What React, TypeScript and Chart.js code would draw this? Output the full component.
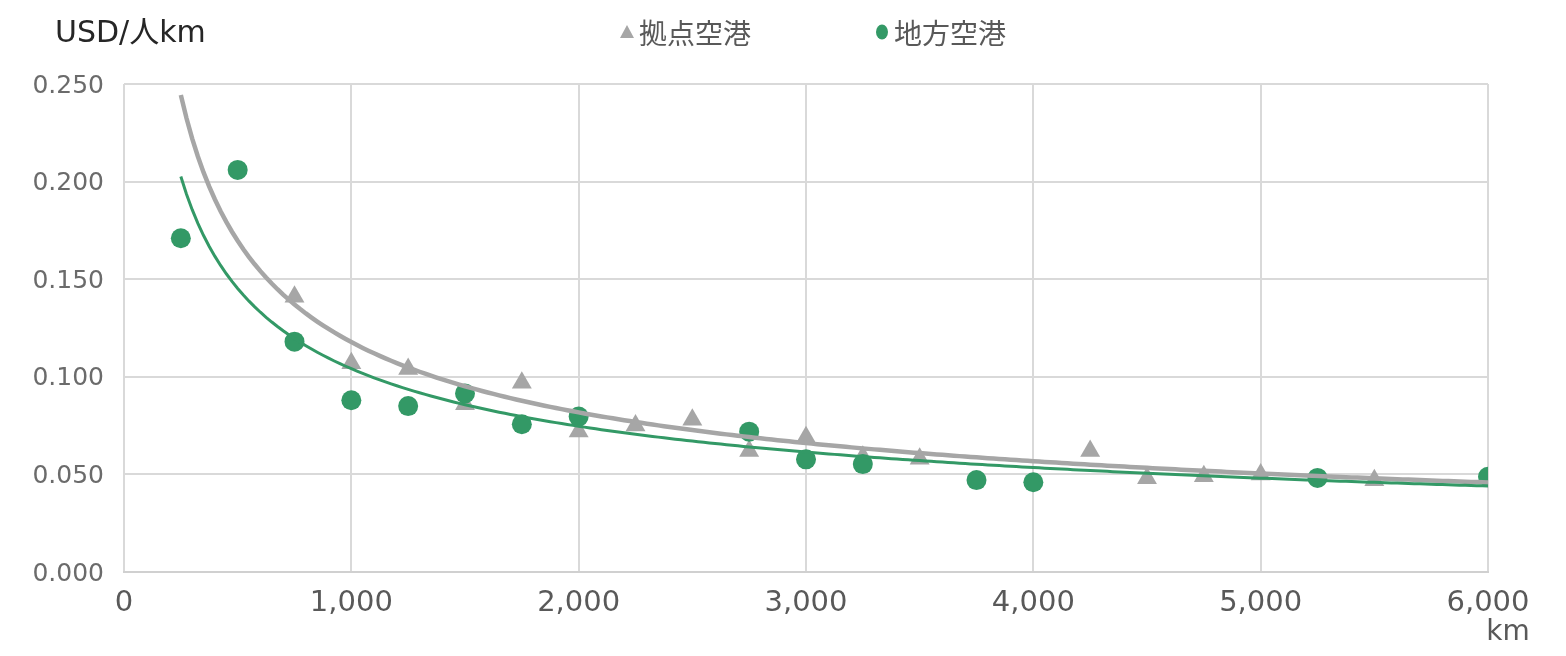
import React, { useEffect, useRef } from "react";
import { Chart, registerables } from "chart.js";

Chart.register(...registerables);

// ---- Data ----
const hubDistances = [750, 1000, 1250, 1500, 1750, 2000, 2250, 2500, 2750, 3000, 3250, 3500, 4250, 4500, 4750, 5000, 5500];
const hubCosts = [0.141, 0.107, 0.104, 0.086, 0.097, 0.072, 0.075, 0.078, 0.062, 0.069, 0.059, 0.058, 0.062, 0.048, 0.049, 0.050, 0.047];

const regionalDistances = [250, 500, 750, 1000, 1250, 1500, 1750, 2000, 2750, 3000, 3250, 3750, 4000, 5250, 6000];
const regionalCosts = [0.171, 0.206, 0.118, 0.088, 0.085, 0.0915, 0.0757, 0.0796, 0.0719, 0.0577, 0.0553, 0.0471, 0.046, 0.0482, 0.0488];

// Power trend lines (y = a * x^b) as shown in the picture
const hubTrend = { a: 4.473, b: -0.5265 };
const regionalTrend = { a: 2.87, b: -0.4801 };
const trendRange = [250, 6000];

const seriesNames = ["拠点空港", "地方空港"];
const yTicks = [0, 0.05, 0.1, 0.15, 0.2, 0.25];
const xTicks = [0, 1000, 2000, 3000, 4000, 5000, 6000];
const yAxisTitle = "USD/人km";
const xAxisTitle = "km";

const GRAY = "#a6a6a6";
const GREEN = "#339966";
const FONT = "'DejaVu Sans', 'Noto Sans CJK JP', sans-serif";
const CJK_FONT = "'Noto Sans CJK JP', sans-serif";

function trendPoints(t: { a: number; b: number }) {
  const pts: { x: number; y: number }[] = [];
  for (let x = trendRange[0]; x <= trendRange[1]; x += 25) {
    pts.push({ x, y: t.a * Math.pow(x, t.b) });
  }
  return pts;
}

const textPlugin = {
  id: "customTexts",
  afterDraw(chart: any) {
    const ctx = chart.ctx;
    ctx.save();
    ctx.textBaseline = "middle";
    // Axis unit titles
    ctx.fillStyle = "#262626";
    ctx.font = `30px ${FONT}`;
    ctx.textAlign = "left";
    ctx.fillText(yAxisTitle, 55, 34);
    ctx.fillStyle = "#595959";
    ctx.font = `28px ${FONT}`;
    ctx.textAlign = "center";
    ctx.fillText(xAxisTitle, 1508, 633);

    // Legend
    ctx.font = `28px ${CJK_FONT}`;
    ctx.textAlign = "left";
    // triangle
    ctx.fillStyle = GRAY;
    ctx.beginPath();
    ctx.moveTo(627, 25);
    ctx.lineTo(634, 38);
    ctx.lineTo(620, 38);
    ctx.closePath();
    ctx.fill();
    ctx.fillStyle = "#595959";
    ctx.fillText(seriesNames[0], 639, 33);
    // circle
    ctx.fillStyle = GREEN;
    ctx.beginPath();
    ctx.ellipse(882, 32, 6, 7.5, 0, 0, Math.PI * 2);
    ctx.fill();
    ctx.fillStyle = "#595959";
    ctx.fillText(seriesNames[1], 894, 33);
    ctx.restore();
  },
};

export default function App() {
  const ref = useRef<HTMLCanvasElement | null>(null);
  useEffect(() => {
    if (!ref.current) return;
    const chart = new Chart(ref.current, {
      type: "scatter",
      data: {
        datasets: [
          {
            label: seriesNames[1] + " trend",
            type: "line",
            data: trendPoints(regionalTrend),
            borderColor: GREEN,
            borderWidth: 3,
            pointRadius: 0,
            fill: false,
          } as any,
          {
            label: seriesNames[0] + " trend",
            type: "line",
            data: trendPoints(hubTrend),
            borderColor: GRAY,
            borderWidth: 4.5,
            pointRadius: 0,
            fill: false,
          } as any,
          {
            label: seriesNames[1],
            data: regionalDistances.map((x, i) => ({ x, y: regionalCosts[i] })),
            pointStyle: "circle",
            pointRadius: 10,
            backgroundColor: GREEN,
            borderColor: GREEN,
            borderWidth: 0,
          },
          {
            label: seriesNames[0],
            data: hubDistances.map((x, i) => ({ x, y: hubCosts[i] })),
            pointStyle: "triangle",
            pointRadius: 11.5,
            backgroundColor: GRAY,
            borderColor: GRAY,
            borderWidth: 0,
          },
        ],
      },
      options: {
        responsive: false,
        animation: false,
        devicePixelRatio: 1,
        layout: { padding: { top: 84, right: 78, bottom: 0, left: 0 } },
        plugins: {
          legend: { display: false },
          tooltip: { enabled: false },
        },
        scales: {
          x: {
            type: "linear",
            min: 0,
            max: 6000,
            afterBuildTicks(scale: any) {
              scale.ticks = xTicks.map((v) => ({ value: v }));
            },
            afterFit(scale: any) {
              scale.height = 84;
            },
            grid: { color: "#d9d9d9", lineWidth: 2, drawTicks: false },
            border: { display: true, color: "#d0d0d0", width: 2 },
            ticks: {
              padding: 14,
              color: "#595959",
              font: { family: FONT, size: 29 },
              maxRotation: 0,
              callback: (v: any) => Number(v).toLocaleString("en-US"),
            },
          },
          y: {
            type: "linear",
            min: 0,
            max: 0.25,
            afterBuildTicks(scale: any) {
              scale.ticks = yTicks.map((v) => ({ value: v }));
            },
            afterFit(scale: any) {
              scale.width = 124;
            },
            grid: { color: "#d9d9d9", lineWidth: 2, drawTicks: false },
            border: { display: false },
            ticks: {
              padding: 20,
              labelOffset: 2,
              color: "#6b6b6b",
              font: { family: FONT, size: 25 },
              callback: (v: any) => Number(v).toFixed(3),
            },
          },
        },
      },
      plugins: [textPlugin],
    });
    return () => chart.destroy();
  }, []);
  return (
    <div style={{ position: "absolute", left: 0, top: 0, width: 1566, height: 656, background: "#fff" }}>
      <canvas ref={ref} width={1566} height={656} />
    </div>
  );
}
